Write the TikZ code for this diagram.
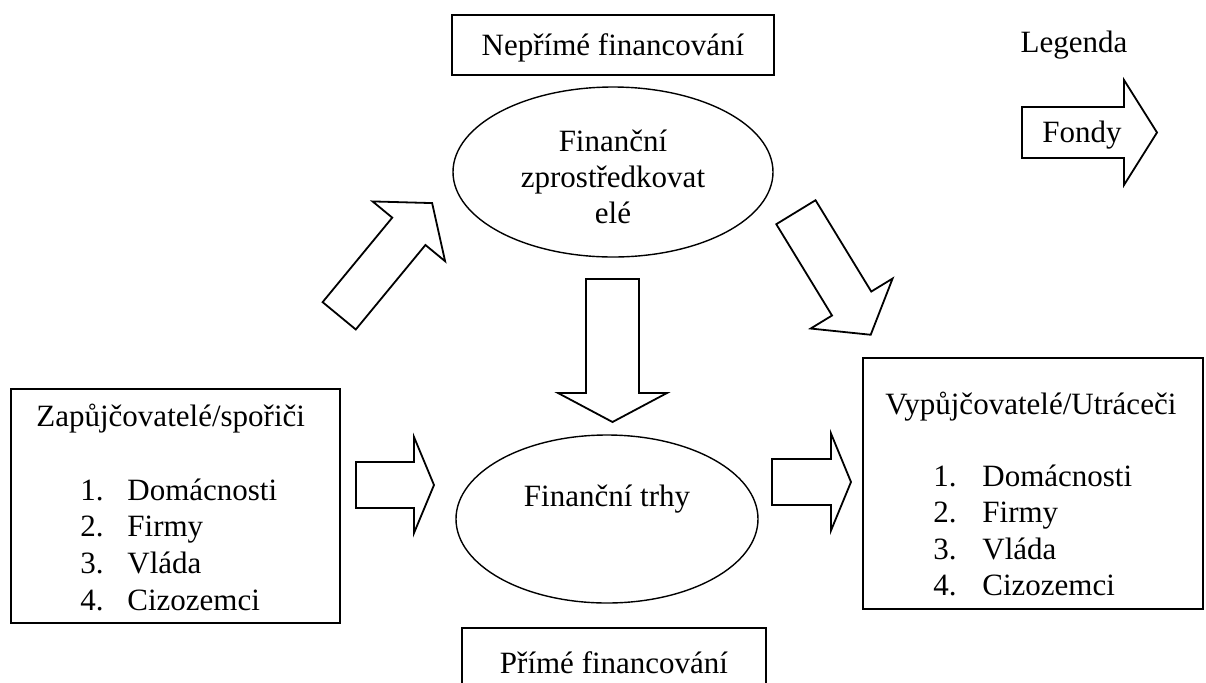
\documentclass[tikz,border=0pt]{standalone}
\usepackage{fontspec}
\setmainfont{Liberation Serif}
\usetikzlibrary{shapes.geometric}
\begin{document}
\begin{tikzpicture}[x=0.5pt,y=-0.5pt,line join=miter]
        \tikzstyle{every node}=[font=\fontsize{15.5}{18}\selectfont,inner sep=0pt]
        \tikzstyle{ramecek}=[draw,rectangle,line width=0.7pt]
        \tikzstyle{ovals}=[draw,ellipse,line width=0.7pt]
        \tikzstyle{obrys}=[draw,fill=white,line width=0.9pt]
        \newcommand\sipka[5]{
            \begin{scope}[#1]
                \draw[obrys] (0,-#3)--(#2,-#3)--(#2,-#4)--({#2+#5},0)--(#2,#4)--(#2,#3)--(0,#3)--cycle;
            \end{scope}
        }
        \useasboundingbox(0,0)rectangle(1206,682);
        % ramecky nahore a dole
        \node[ramecek,minimum width=161pt,minimum height=30pt] (neprime) at (613,45) {};
        \node[anchor=base] (neprimeText) at (613,55) {Nepřímé financování};
        \node[ramecek,minimum width=152pt,minimum height=35pt] (prime) at (614,663) {};
        \node[anchor=base] (primeText) at (614,673) {Přímé financování};
        % elipsy
        \node[ovals,minimum width=160pt,minimum height=85pt] (zprostr) at (613,172) {};
        \node[align=center] (zprostrText) at (613,177) {Finanční\\zprostředkovat\\elé};
        \node[ovals,minimum width=151pt,minimum height=84pt] (trhy) at (607,519) {};
        \node[anchor=base] (trhyText) at (607,506) {Finanční trhy};
        % zapujcovatele
        \node[ramecek,minimum width=164.5pt,minimum height=117pt] (zapujc) at (175.5,506) {};
        \node[anchor=base west] (zapujcHlava) at (36,426) {Zapůjčovatelé/spořiči};
        \foreach \cislo/\polozka [count=\i] in {1/Domácnosti,2/Firmy,3/Vláda,4/Cizozemci}{
            \node[anchor=base west] (zc\i) at (80,{500+(\i-1)*36.7}) {\cislo.};
            \node[anchor=base west] (zp\i) at (127,{500+(\i-1)*36.7}) {\polozka};
        }
        % vypujcovatele
        \node[ramecek,minimum width=170pt,minimum height=125.5pt] (vypujc) at (1033,483.5) {};
        \node[anchor=base west] (vypujcHlava) at (885,414) {Vypůjčovatelé/Utráceči};
        \foreach \cislo/\polozka [count=\i] in {1/Domácnosti,2/Firmy,3/Vláda,4/Cizozemci}{
            \node[anchor=base west] (vc\i) at (933,{486.5+(\i-1)*36.3}) {\cislo.};
            \node[anchor=base west] (vp\i) at (982,{486.5+(\i-1)*36.3}) {\polozka};
        }
        % sipky
        \sipka{shift={(339.2,315.8)},rotate=50.5}{109.5}{21.5}{47}{36.6}
        \sipka{shift={(795.9,212.2)},rotate=-58.6}{107}{23}{48}{36.6}
        \sipka{shift={(612.5,279)},rotate=-90}{114}{26.5}{54.5}{29}
        \sipka{shift={(356,485)}}{58}{23}{48}{20}
        \sipka{shift={(772,482)}}{59}{23}{48.5}{20}
        % legenda
        \node[anchor=base] (legenda) at (1074,52) {Legenda};
        \sipka{shift={(1022,132.5)}}{102}{25.5}{52.5}{33}
        \node[anchor=base] (fondy) at (1082,142) {Fondy};
\end{tikzpicture}
\end{document}
